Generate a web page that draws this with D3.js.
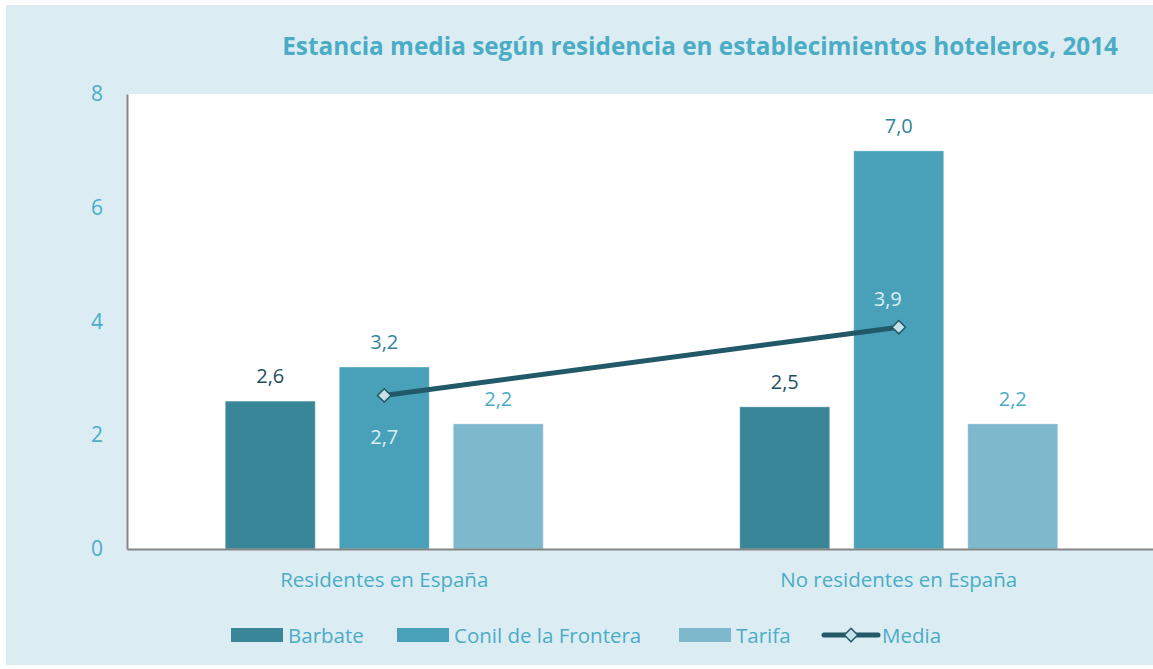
<!DOCTYPE html>
<html>
<head>
<meta charset="utf-8">
<script src="https://cdn.jsdelivr.net/npm/d3@7"></script>
<style>
  body { margin: 0; background: #ffffff; }
  svg text { font-family: "Open Sans", "Noto Sans", sans-serif; }
</style>
</head>
<body>
<svg id="chart"></svg>
<script>
/* données du graphique */
const categories = ['Residentes en España', 'No residentes en España']
const series = ['Barbate', 'Conil de la Frontera', 'Tarifa']
const barbate = [2.6, 2.5]
const conil = [3.2, 7.0]
const tarifa = [2.2, 2.2]
const media = [2.7, 3.9]
const yTicks = [0, 2, 4, 6, 8]
const title = 'Estancia media según residencia en establecimientos hoteleros, 2014'

const width = 1153, height = 669
const margin = {top: 94, right: -3, bottom: 120, left: 127}

const colors = ['#3a8699', '#48a1b9', '#7db8cd']
const labelColors = ['#1f4e5f', '#31859c', '#4bacc6']
const lineColor = '#215968'
const textColor = '#4bacc6'

const svg = d3.select('#chart').attr('width', width).attr('height', height)

// échelles
const x0 = d3.scaleBand().domain(categories)
             .range([margin.left, width - margin.right])
             .paddingInner(0).paddingOuter(0)
const x1 = d3.scaleBand().domain(series)
             .range([0, x0.bandwidth()])
             .paddingInner(0.2105).paddingOuter(0.862)
const y = d3.scaleLinear().domain([0, 8]).range([549, 94])

// fond
svg.append('rect').attr('x', 6).attr('y', 5).attr('width', width - 6).attr('height', 660)
   .attr('fill', '#dbedf3')
svg.append('rect').attr('x', margin.left).attr('y', y(8))
   .attr('width', width - margin.left).attr('height', y(0) - y(8))
   .attr('fill', '#ffffff')

// barres
const values = [barbate, conil, tarifa]
const rows = []
series.forEach((s, i) => {
    categories.forEach((c, j) => {
        rows.push({serie: s, idx: i, cat: c, value: values[i][j]})
    })
})

svg.append('g').selectAll('rect')
   .data(rows)
   .enter()
   .append('rect')
   .attr('x', d => x0(d.cat) + x1(d.serie))
   .attr('y', d => y(d.value))
   .attr('width', x1.bandwidth())
   .attr('height', d => y(0) - y(d.value))
   .attr('fill', d => colors[d.idx])
   .attr('stroke', 'rgba(255,255,255,0.35)')
   .attr('stroke-width', 1)

svg.append('g').selectAll('text')
   .data(rows)
   .enter()
   .append('text')
   .attr('x', d => x0(d.cat) + x1(d.serie) + x1.bandwidth() / 2)
   .attr('y', d => y(d.value) - 18)
   .attr('text-anchor', 'middle')
   .attr('fill', d => labelColors[d.idx])
   .style('font-size', '20px')
   .text(d => d.value.toFixed(1).replace('.', ','))

// axes
const yAxis = d3.axisLeft(y).tickValues(yTicks).tickSize(0).tickPadding(24)
const gy = svg.append('g').attr('transform', 'translate(' + margin.left + ',0)').call(yAxis)
gy.select('.domain').attr('stroke', '#868686').attr('stroke-width', 2)
gy.selectAll('text').attr('fill', textColor).style('font-size', '21px')

const xAxis = d3.axisBottom(x0).tickSize(0).tickPadding(23)
const gx = svg.append('g').attr('transform', 'translate(0,' + y(0) + ')').call(xAxis)
gx.select('.domain').attr('stroke', '#868686').attr('stroke-width', 2)
gx.selectAll('text').attr('fill', textColor).style('font-size', '20.5px')

// ligne media
const line = d3.line().x((d, i) => x0(categories[i]) + x0.bandwidth() / 2).y(d => y(d))
svg.append('path').datum(media)
   .attr('d', line)
   .attr('fill', 'none')
   .attr('stroke', lineColor)
   .attr('stroke-width', 5)

const diamond = d3.symbol().type(d3.symbolDiamond2).size(115)
svg.append('g').selectAll('path')
   .data(media)
   .enter()
   .append('path')
   .attr('d', diamond)
   .attr('transform', (d, i) => 'translate(' + (x0(categories[i]) + x0.bandwidth() / 2) + ',' + y(d) + ')')
   .attr('fill', '#c6e0e8')
   .attr('stroke', lineColor)
   .attr('stroke-width', 1.5)

svg.append('g').selectAll('text')
   .data(media)
   .enter()
   .append('text')
   .attr('x', (d, i) => x0(categories[i]) + x0.bandwidth() / 2 + (i === 0 ? 0 : -11))
   .attr('y', (d, i) => i === 0 ? y(d) + 49 : y(d) - 21)
   .attr('text-anchor', 'middle')
   .attr('fill', '#dbeef3')
   .style('font-size', '20px')
   .text(d => d.toFixed(1).replace('.', ','))

// titre
const t = svg.append('text')
   .attr('x', 1118).attr('y', 55)
   .attr('text-anchor', 'end')
   .attr('fill', textColor)
   .style('font-weight', 'bold')
   .style('font-size', '20px')
   .text(title)
const tw = t.node().getComputedTextLength()
t.style('font-size', (20 * 836 / tw) + 'px')

// légende
const legendX = [231, 397, 679]
const lg = svg.append('g')
series.forEach((s, i) => {
    lg.append('rect').attr('x', legendX[i]).attr('y', 628).attr('width', 52).attr('height', 14)
      .attr('fill', colors[i])
    lg.append('text').attr('x', legendX[i] + 57).attr('y', 643)
      .attr('fill', textColor).style('font-size', '20.5px').text(s)
})
lg.append('line').attr('x1', 824).attr('x2', 878).attr('y1', 635).attr('y2', 635)
  .attr('stroke', lineColor).attr('stroke-width', 5).attr('stroke-linecap', 'round')
lg.append('path').attr('d', diamond).attr('transform', 'translate(851,635)')
  .attr('fill', '#c6e0e8').attr('stroke', lineColor).attr('stroke-width', 1.5)
lg.append('text').attr('x', 882).attr('y', 643)
  .attr('fill', textColor).style('font-size', '20.5px').text('Media')
</script>
</body>
</html>
